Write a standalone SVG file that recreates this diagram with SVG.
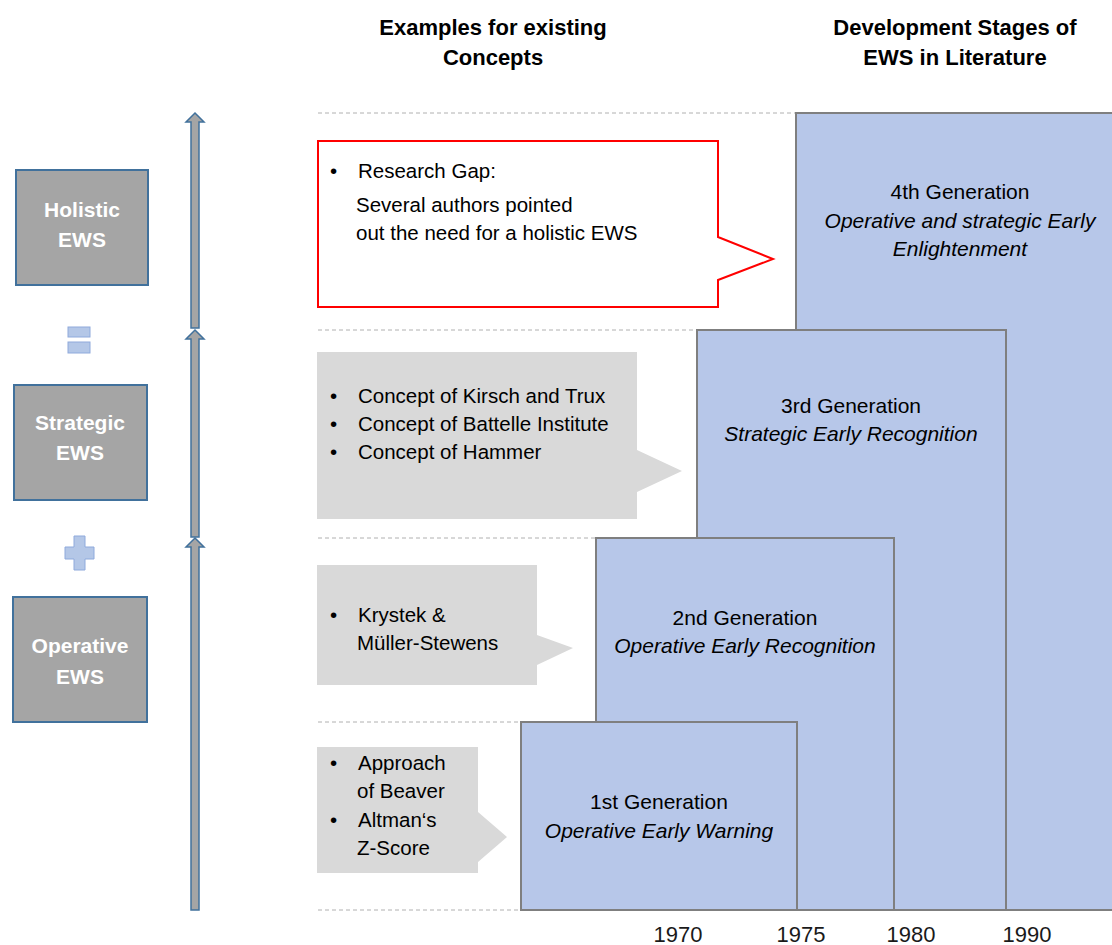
<svg xmlns="http://www.w3.org/2000/svg" width="1112" height="945" viewBox="0 0 1112 945">
  <style>
    text { font-family: "Liberation Sans", Arial, sans-serif; fill: #000; }
    .head { font-size: 22px; font-weight: bold; text-anchor: middle; }
    .lbl { font-size: 21px; font-weight: bold; fill: #ffffff; text-anchor: middle; }
    .body { font-size: 20.5px; }
    .gen { font-size: 21px; text-anchor: middle; }
    .gen-i { font-size: 21px; font-style: italic; text-anchor: middle; }
    .year { font-size: 22px; text-anchor: middle; fill: #1a1a1a; }
    .level { fill: #a5a5a5; stroke: #41719c; stroke-width: 2; }
    .axis { fill: #a5a5a5; stroke: #41719c; stroke-width: 1.5; }
    .op { fill: #b4c7e7; stroke: #8faadc; stroke-width: 1; }
    .guide { stroke: #b0b0b0; stroke-width: 1; stroke-dasharray: 4 3; fill: none; }
    .stage { fill: #b7c7e9; stroke: #7f7f7f; stroke-width: 2; }
    .example { fill: #d9d9d9; stroke: none; }
    .gap { fill: #ffffff; stroke: #ff0000; stroke-width: 2; }
  </style>

  <rect width="1112" height="945" fill="#ffffff"/>

  <!-- column headings -->
  <g id="heading-examples">
    <text class="head" x="493" y="35">Examples for existing</text>
    <text class="head" x="493" y="65">Concepts</text>
  </g>
  <g id="heading-stages">
    <text class="head" x="955" y="35">Development Stages of</text>
    <text class="head" x="955" y="65">EWS in Literature</text>
  </g>

  <!-- horizontal guide lines -->
  <g id="guides">
    <line class="guide" x1="318" y1="113" x2="796" y2="113"/>
    <line class="guide" x1="318" y1="330" x2="697" y2="330"/>
    <line class="guide" x1="318" y1="538" x2="596" y2="538"/>
    <line class="guide" x1="318" y1="722" x2="521" y2="722"/>
    <line class="guide" x1="318" y1="910" x2="521" y2="910"/>
  </g>

  <!-- EWS levels -->
  <g id="level-holistic">
    <rect class="level" x="16" y="170" width="132" height="115"/>
    <text class="lbl" x="82" y="217">Holistic</text>
    <text class="lbl" x="82" y="247">EWS</text>
  </g>
  <g id="op-equals">
    <rect class="op" x="68" y="327" width="22" height="10"/>
    <rect class="op" x="68" y="342" width="22" height="11"/>
  </g>
  <g id="level-strategic">
    <rect class="level" x="14" y="385" width="133" height="115"/>
    <text class="lbl" x="80" y="430">Strategic</text>
    <text class="lbl" x="80" y="460">EWS</text>
  </g>
  <g id="op-plus">
    <path class="op" d="M74,536 H85 V547 H94 V559 H85 V570 H74 V559 H65 V547 H74 Z"/>
  </g>
  <g id="level-operative">
    <rect class="level" x="13" y="597" width="134" height="125"/>
    <text class="lbl" x="80" y="653">Operative</text>
    <text class="lbl" x="80" y="684">EWS</text>
  </g>

  <!-- vertical progression arrows -->
  <g id="connectors">
    <path class="axis" d="M195,113 L204,122 L199,122 L199,328 L191,328 L191,122 L186,122 Z"/>
    <path class="axis" d="M195,330 L204,339 L199,339 L199,537 L191,537 L191,339 L186,339 Z"/>
    <path class="axis" d="M195,538 L204,547 L199,547 L199,910 L191,910 L191,547 L186,547 Z"/>
  </g>

  <!-- development stages -->
  <g id="stage-4">
    <rect class="stage" x="796" y="113" width="330" height="797"/>
    <text class="gen" x="960" y="199">4th Generation</text>
    <text class="gen-i" x="960" y="228">Operative and strategic Early</text>
    <text class="gen-i" x="960" y="256">Enlightenment</text>
  </g>
  <g id="stage-3">
    <rect class="stage" x="697" y="330" width="309" height="580"/>
    <text class="gen" x="851" y="413">3rd Generation</text>
    <text class="gen-i" x="851" y="441">Strategic Early Recognition</text>
  </g>
  <g id="stage-2">
    <rect class="stage" x="596" y="538" width="298" height="372"/>
    <text class="gen" x="745" y="625">2nd Generation</text>
    <text class="gen-i" x="745" y="653">Operative Early Recognition</text>
  </g>
  <g id="stage-1">
    <rect class="stage" x="521" y="722" width="276" height="188"/>
    <text class="gen" x="659" y="809">1st Generation</text>
    <text class="gen-i" x="659" y="838">Operative Early Warning</text>
  </g>

  <!-- example callouts -->
  <g id="callout-gap">
    <path class="gap" d="M318,141 H718 V237 L773,259 L718,280 V307 H318 Z"/>
    <text class="body" x="330" y="178" font-size="22">•</text>
    <text class="body" x="358" y="178" font-size="22">Research Gap:</text>
    <text class="body" x="356" y="212">Several authors pointed</text>
    <text class="body" x="356" y="240">out the need for a holistic EWS</text>
  </g>
  <g id="callout-strategic">
    <path class="example" d="M317,352 H637 V450 L682,471 L637,492 V519 H317 Z"/>
    <text class="body" x="330" y="403">•</text>
    <text class="body" x="358" y="403">Concept of Kirsch and Trux</text>
    <text class="body" x="330" y="431">•</text>
    <text class="body" x="358" y="431">Concept of Battelle Institute</text>
    <text class="body" x="330" y="459">•</text>
    <text class="body" x="358" y="459">Concept of Hammer</text>
  </g>
  <g id="callout-operative">
    <path class="example" d="M317,565 H537 V635 L573,648 L537,665 V685 H317 Z"/>
    <text class="body" x="330" y="622">•</text>
    <text class="body" x="358" y="622">Krystek &amp;</text>
    <text class="body" x="357" y="650">Müller-Stewens</text>
  </g>
  <g id="callout-early">
    <path class="example" d="M317,747 H478 V812 L507,837 L478,862 V873 H317 Z"/>
    <text class="body" x="330" y="770">•</text>
    <text class="body" x="358" y="770">Approach</text>
    <text class="body" x="357" y="798">of Beaver</text>
    <text class="body" x="330" y="827">•</text>
    <text class="body" x="358" y="827">Altman‘s</text>
    <text class="body" x="357" y="855">Z-Score</text>
  </g>

  <!-- time axis labels -->
  <g id="years">
    <text class="year" x="678" y="942">1970</text>
    <text class="year" x="801" y="942">1975</text>
    <text class="year" x="911" y="942">1980</text>
    <text class="year" x="1027" y="942">1990</text>
  </g>
</svg>
